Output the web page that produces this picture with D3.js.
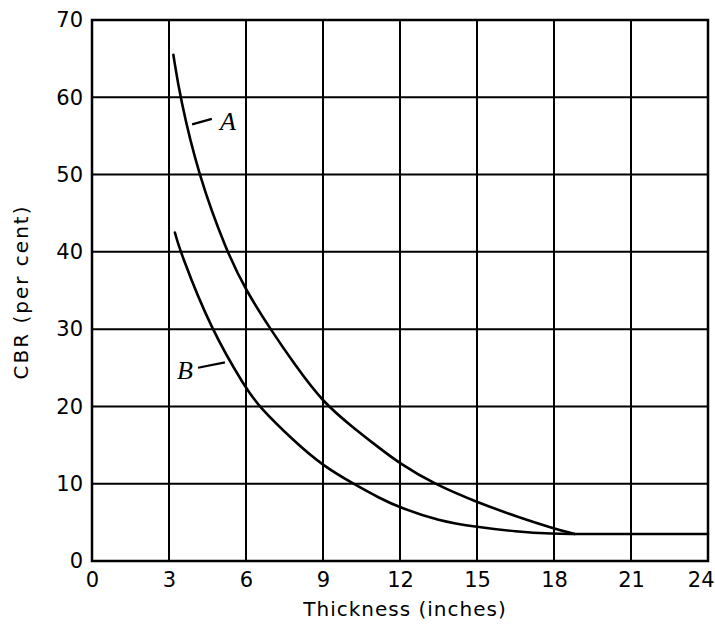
<!DOCTYPE html>
<html>
<head>
<meta charset="utf-8">
<script src="https://cdn.jsdelivr.net/npm/d3@7"></script>
<style>
  body { margin: 0; background: #fff; }
  svg { display: block; }
</style>
</head>
<body>
<div id="chart"></div>
<script>
// CBR vs thickness, curves A and B
const X_TICKS = [0, 3, 6, 9, 12, 15, 18, 21, 24];
const Y_TICKS = [0, 10, 20, 30, 40, 50, 60, 70];
const CURVE_A = [
  { x: 3.17, y: 65.5 }, { x: 3.43, y: 60 }, { x: 4.14, y: 50 }, { x: 5.25, y: 40 },
  { x: 6, y: 35 }, { x: 6.95, y: 30 }, { x: 7.9, y: 25.4 }, { x: 9, y: 20.5 },
  { x: 10.2, y: 17.2 }, { x: 11.2, y: 14.6 }, { x: 12, y: 12.6 }, { x: 13.3, y: 10 },
  { x: 15, y: 7.6 }, { x: 16.5, y: 5.8 }, { x: 18, y: 4.2 }, { x: 18.8, y: 3.5 },
];
const CURVE_B = [
  { x: 3.23, y: 42.5 }, { x: 3.44, y: 40 }, { x: 4.63, y: 30 }, { x: 6, y: 22.3 },
  { x: 6.5, y: 20 }, { x: 7.84, y: 15.6 }, { x: 9, y: 12.3 }, { x: 10.18, y: 10 },
  { x: 11.22, y: 8.1 }, { x: 12, y: 6.9 }, { x: 13.5, y: 5.2 }, { x: 15, y: 4.4 },
  { x: 16.5, y: 3.8 }, { x: 18, y: 3.5 }, { x: 18.8, y: 3.5 },
];
const TAIL = [{ x: 18.8, y: 3.5 }, { x: 24, y: 3.5 }];
const LABELS = [
  { name: "A", x: 5.3, y: 57.0, from: [3.9, 56.5], to: [4.67, 57.2] },
  { name: "B", x: 3.62, y: 24.7, from: [4.13, 25.0], to: [5.18, 25.7] },
];

const W = 715, H = 629;
const m = { t: 20, r: 7, b: 68, l: 92 };
const iw = W - m.l - m.r, ih = H - m.t - m.b;
const FONT = "'DejaVu Sans', 'Noto Sans', sans-serif";

const svg = d3.select("#chart").append("svg").attr("width", W).attr("height", H);
const g = svg.append("g").attr("transform", `translate(${m.l},${m.t})`);

const x = d3.scaleLinear().domain([0, 24]).range([0, iw]);
const y = d3.scaleLinear().domain([0, 70]).range([ih, 0]);

// grid
g.append("g").selectAll("line").data(X_TICKS).join("line")
  .attr("x1", d => x(d)).attr("x2", d => x(d)).attr("y1", 0).attr("y2", ih)
  .attr("stroke", "#000").attr("stroke-width", 2);
g.append("g").selectAll("line").data(Y_TICKS).join("line")
  .attr("y1", d => y(d)).attr("y2", d => y(d)).attr("x1", 0).attr("x2", iw)
  .attr("stroke", "#000").attr("stroke-width", 2);
g.append("rect").attr("width", iw).attr("height", ih)
  .attr("fill", "none").attr("stroke", "#000").attr("stroke-width", 2.5);

// axes (labels only, grid drawn above)
const xa = g.append("g").attr("transform", `translate(0,${ih})`)
  .call(d3.axisBottom(x).tickValues(X_TICKS).tickSize(0).tickPadding(11));
const ya = g.append("g")
  .call(d3.axisLeft(y).tickValues(Y_TICKS).tickSize(0).tickPadding(9));
[xa, ya].forEach(a => {
  a.select(".domain").remove();
  a.selectAll("text").attr("fill", "#000").attr("font-family", FONT).attr("font-size", 21);
});
// last x label sits against the page edge, as in the original
xa.selectAll("text").filter(d => d === 24).attr("text-anchor", "end").attr("x", m.r - 1);

g.append("text").attr("x", iw / 2 + 5).attr("y", ih + 55).attr("text-anchor", "middle")
  .attr("font-family", FONT).attr("font-size", 20).attr("letter-spacing", 1)
  .text("Thickness (inches)");
g.append("text").attr("transform", `translate(${-64},${272}) rotate(-90)`)
  .attr("text-anchor", "middle").attr("font-family", FONT).attr("font-size", 20)
  .attr("letter-spacing", 2).text("CBR (per cent)");

// curves, smoothed through the read points
const line = d3.line().x(d => x(d.x)).y(d => y(d.y)).curve(d3.curveBasis);
[CURVE_A, CURVE_B, TAIL].forEach(c => {
  g.append("path").datum(c).attr("fill", "none").attr("stroke", "#000")
    .attr("stroke-width", 2.6).attr("stroke-linecap", "round").attr("d", line);
});

// curve labels with pointers
LABELS.forEach(l => {
  g.append("text").attr("x", x(l.x)).attr("y", y(l.y)).attr("dy", "0.35em")
    .attr("text-anchor", "middle").attr("font-family", "'Liberation Serif', serif")
    .attr("font-style", "italic").attr("font-size", 26).text(l.name);
  g.append("line").attr("x1", x(l.from[0])).attr("y1", y(l.from[1]))
    .attr("x2", x(l.to[0])).attr("y2", y(l.to[1]))
    .attr("stroke", "#000").attr("stroke-width", 2.2);
});
</script>
</body>
</html>
